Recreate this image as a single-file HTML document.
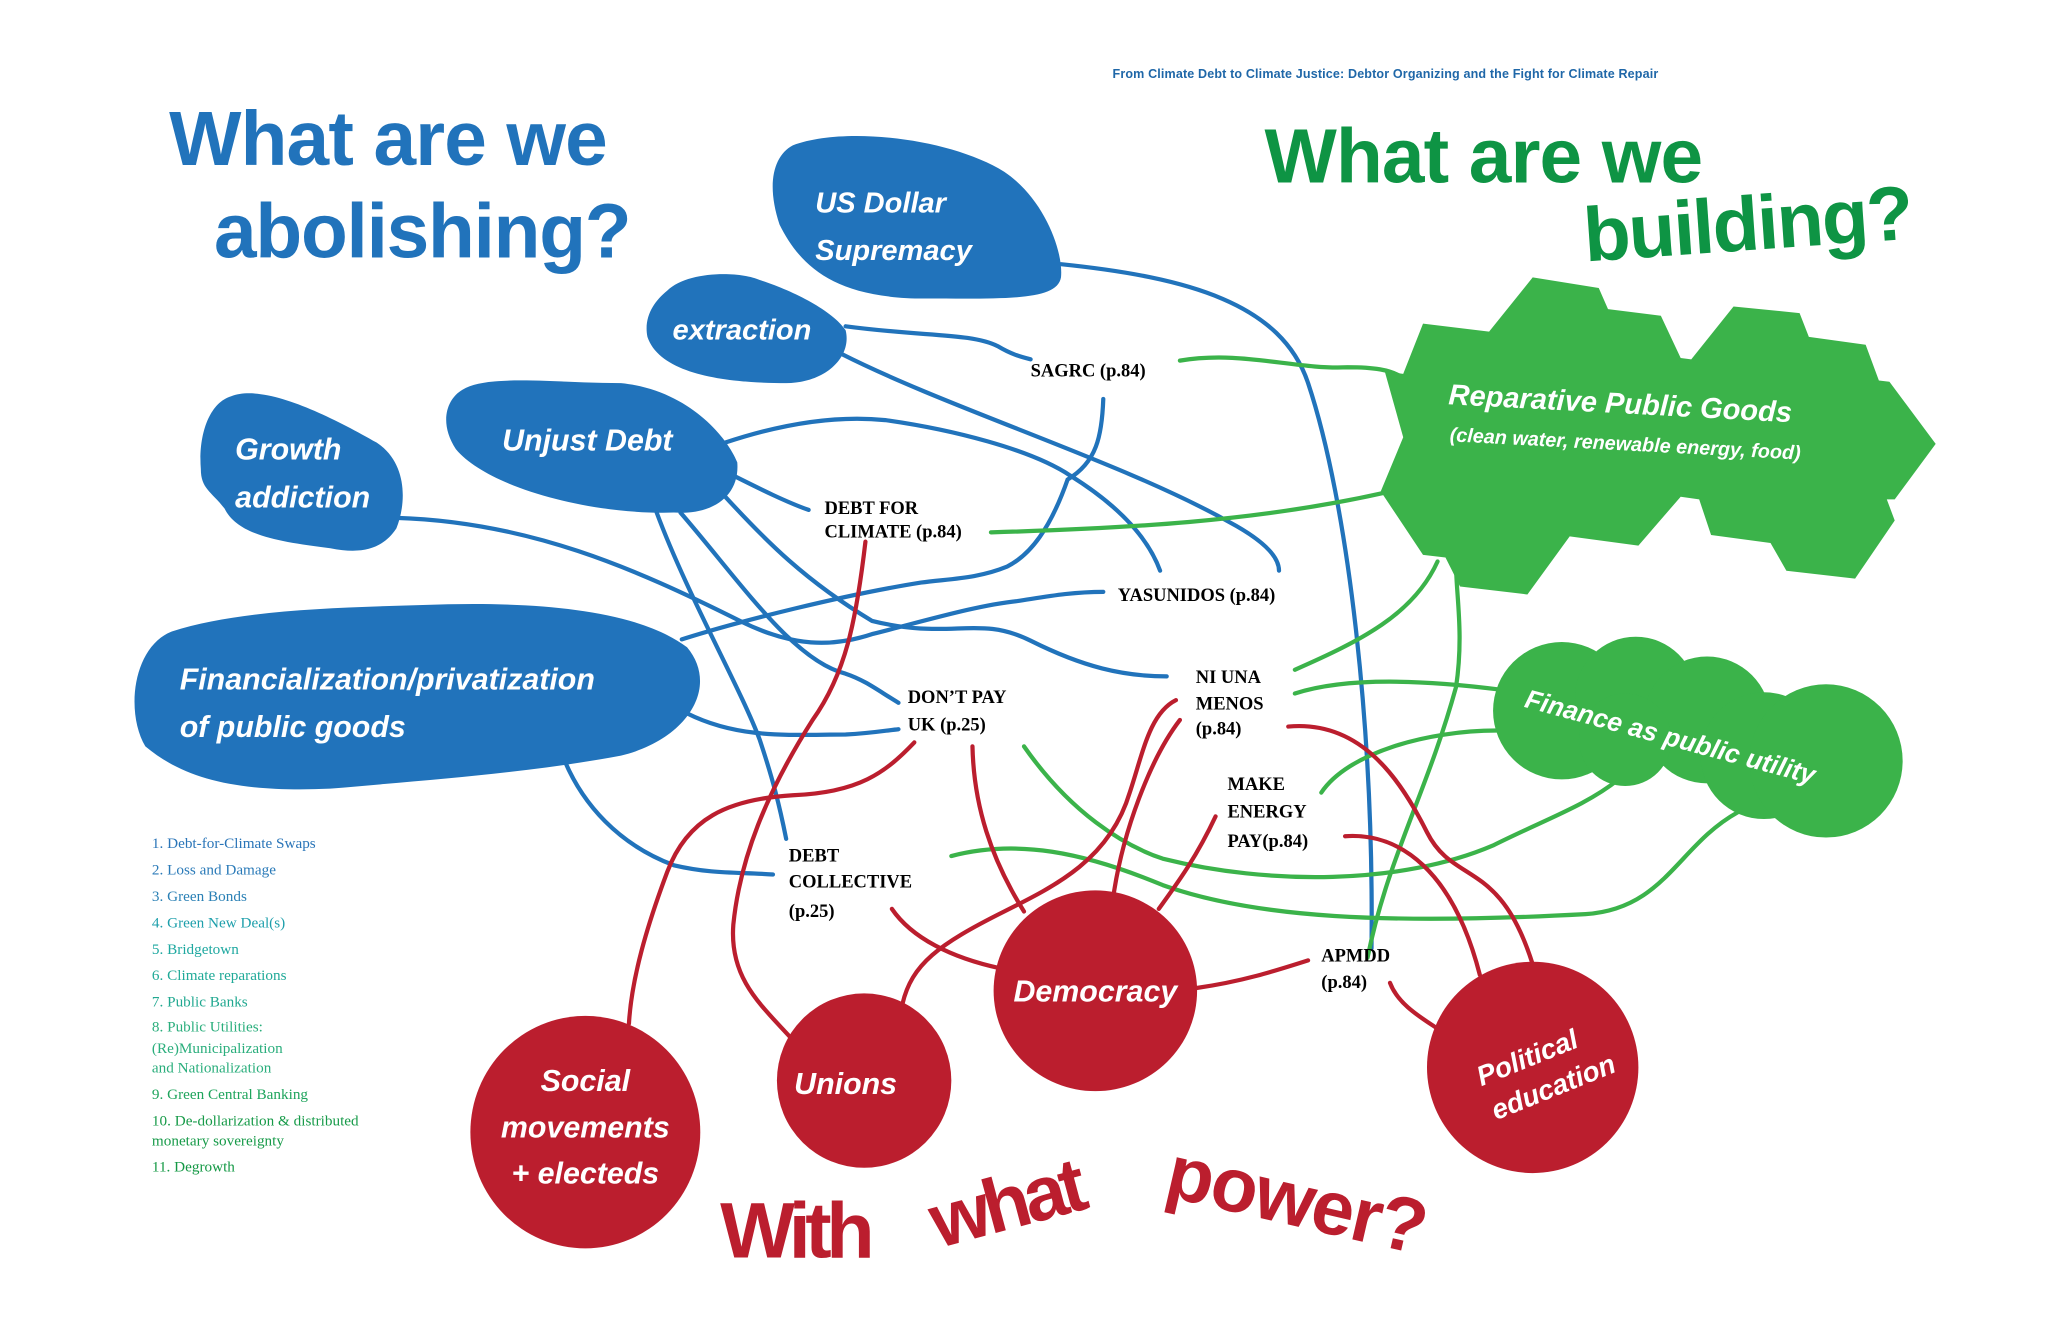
<!DOCTYPE html>
<html><head><meta charset="utf-8"><style>
html,body{margin:0;padding:0;background:#fff;}
svg{display:block;}
.t{font-family:"Liberation Sans",sans-serif;font-weight:bold;}
.b{font-family:"Liberation Sans",sans-serif;font-weight:bold;font-style:italic;fill:#fff;}
.n{font-family:"Liberation Serif",serif;font-weight:bold;fill:#000;font-size:14px;}
.l{font-family:"Liberation Serif",serif;font-size:11.5px;}
.bl{stroke:#2173bb;stroke-width:3.2;fill:none;stroke-linecap:round;}
.gr{stroke:#3bb34a;stroke-width:3.2;fill:none;stroke-linecap:round;}
.rd{stroke:#bb1e2e;stroke-width:3.2;fill:none;stroke-linecap:round;}
</style></head><body>
<svg width="2048" height="1325" viewBox="0 0 1550 1003" preserveAspectRatio="none" xmlns="http://www.w3.org/2000/svg">
<rect width="1550" height="1003" fill="#fff"/>

<!-- connectors -->
<g class="bl">
<path d="M803,200 C900,210 970,230 990,290 C1020,380 1040,550 1038,718"/>
<path d="M640,247 C700,255 735,252 755,262 C765,268 772,270 780,272"/>
<path d="M637,268 C720,310 850,350 930,395 C958,410 968,422 968,432"/>
<path d="M835,302 C834,330 830,350 808,363 C795,400 780,420 762,429 C740,438 720,438 697,441 C640,450 560,470 516,484"/>
<path d="M300,392 C400,395 480,430 560,470 C600,490 630,490 660,480 C700,470 740,458 770,455 C790,452 810,448 835,448"/>
<path d="M549,335 C600,318 640,315 670,318 C720,325 780,340 810,360 C850,385 870,410 878,432"/>
<path d="M555,360 C575,370 595,380 612,386"/>
<path d="M548,375 C580,410 610,440 660,470 C720,485 740,465 780,485 C820,505 850,512 883,512"/>
<path d="M497,388 C520,450 560,520 575,560 C585,590 590,610 595,635"/>
<path d="M515,388 C560,440 600,500 640,510 C655,515 665,523 680,532"/>
<path d="M520,540 C560,560 600,556 640,556 C660,555 670,553 680,552"/>
<path d="M425,570 C440,610 470,640 510,655 C540,662 560,660 585,662"/>
</g>
<g class="gr">
<path d="M893,273 C940,265 980,280 1020,278 C1040,278 1052,280 1060,285"/>
<path d="M750,403 C850,400 950,395 1048,373"/>
<path d="M980,507 C1030,485 1070,465 1088,425"/>
<path d="M980,525 C1020,512 1080,515 1135,522"/>
<path d="M1000,600 C1020,570 1080,553 1133,553"/>
<path d="M775,565 C810,615 850,640 880,650 C960,670 1060,670 1130,640 C1170,620 1200,610 1225,590"/>
<path d="M720,648 C770,635 820,645 880,670 C950,695 1050,700 1200,692 C1260,688 1270,640 1315,615"/>
<path d="M1035,725 C1050,650 1080,600 1102,520 C1108,480 1102,450 1102,428"/>
</g>
<g class="rd">
<path d="M655,410 C648,470 640,510 615,545 C580,600 560,650 555,700 C552,740 575,760 598,785"/>
<path d="M692,562 C670,585 650,600 600,602 C550,605 520,620 505,660 C490,700 478,740 476,775"/>
<path d="M736,565 C737,610 750,650 775,690"/>
<path d="M890,530 C870,540 865,570 855,600 C840,650 800,670 760,690 C710,715 690,730 683,760"/>
<path d="M893,545 C870,575 850,630 843,676"/>
<path d="M975,550 C1030,545 1060,590 1080,630 C1100,670 1135,650 1160,730"/>
<path d="M920,618 C905,650 890,670 877,688"/>
<path d="M1018,633 C1060,630 1100,660 1120,738"/>
<path d="M675,688 C690,710 720,725 757,733"/>
<path d="M905,748 C940,743 965,735 990,727"/>
<path d="M1052,744 C1058,760 1075,770 1087,778"/>
</g>

<!-- blue blobs -->
<g fill="#2173bb">
<path d="M600,110 C640,95 720,105 760,130 C790,150 805,190 803,210 C800,228 760,226 700,226 C630,226 605,200 590,170 C580,140 585,118 600,110Z"/>
<path d="M505,220 C520,205 560,205 575,212 C600,220 630,235 640,250 C645,270 625,290 595,290 C555,290 500,285 490,255 C487,240 495,228 505,220Z"/>
<path d="M350,295 C370,283 420,290 470,290 C520,295 550,330 558,350 C560,375 540,390 510,388 C450,390 370,370 345,340 C332,320 338,302 350,295Z"/>
<path d="M175,300 C200,290 250,315 285,335 C308,350 308,380 300,400 C290,415 275,420 250,415 C210,410 180,405 170,385 C160,372 152,370 152,355 C150,330 158,305 175,300Z"/>
<path d="M130,478 C180,462 250,460 320,458 C400,455 480,460 520,490 C545,520 520,560 470,572 C400,585 330,590 250,597 C180,600 140,590 110,565 C95,540 100,490 130,478Z"/>
</g>

<!-- green shapes -->
<polygon fill="#3bb34a" points="1062,283 1077,245 1127,251 1160,210 1210,218 1217,234 1257,239 1272,271 1280,272 1312,232 1362,237 1369,255 1412,261 1422,288 1430,289 1465,336 1434,378 1428,378 1434,394 1404,438 1352,432 1340,411 1295,405 1286,378 1272,376 1240,413 1188,406 1156,450 1105,444 1094,422 1077,420 1045,372 1062,331 1048,281"/>
<g fill="#3bb34a">
<circle cx="1182" cy="538" r="52"/>
<circle cx="1238" cy="528" r="46"/>
<circle cx="1292" cy="545" r="48"/>
<circle cx="1230" cy="560" r="35"/>
<circle cx="1335" cy="572" r="48"/>
<circle cx="1382" cy="576" r="58"/>
</g>

<!-- red circles -->
<g fill="#bb1e2e">
<ellipse cx="443" cy="857" rx="87" ry="88"/>
<ellipse cx="654" cy="818" rx="66" ry="66"/>
<ellipse cx="829" cy="750" rx="77" ry="76"/>
<ellipse cx="1160" cy="808" rx="80" ry="80"/>
</g>

<!-- titles -->
<text x="842" y="59" class="t" fill="#1f67a8" font-size="9.5" font-weight="normal" textLength="413">From Climate Debt to Climate Justice: Debtor Organizing and the Fight for Climate Repair</text>
<text x="128" y="125" class="t" fill="#2173bb" font-size="58" textLength="332">What are we</text>
<text x="162" y="195" class="t" fill="#2173bb" font-size="58" textLength="316">abolishing?</text>
<text x="957" y="138" class="t" fill="#0e9444" font-size="58" textLength="332">What are we</text>
<text x="1200" y="198" class="t" fill="#0e9444" font-size="58" textLength="250" transform="rotate(-4 1200 198)">building?</text>
<text x="545" y="952" class="t" fill="#bb1e2e" font-size="60" textLength="117">With</text>
<text x="710" y="945" class="t" fill="#bb1e2e" font-size="58" textLength="120" transform="rotate(-15 710 945)">what</text>
<text x="880" y="905" class="t" fill="#bb1e2e" font-size="58" textLength="200" transform="rotate(13 880 905)">power?</text>

<!-- blob labels -->
<text class="b" x="617" y="161" font-size="22">US Dollar</text>
<text class="b" x="617" y="197" font-size="22">Supremacy</text>
<text class="b" x="509" y="257" font-size="22">extraction</text>
<text class="b" x="380" y="341" font-size="23">Unjust Debt</text>
<text class="b" x="178" y="348" font-size="23">Growth</text>
<text class="b" x="178" y="384" font-size="23">addiction</text>
<text class="b" x="136" y="522" font-size="23">Financialization/privatization</text>
<text class="b" x="136" y="558" font-size="23">of public goods</text>
<text class="b" x="1096" y="306" font-size="22" transform="rotate(3 1096 306)">Reparative Public Goods</text>
<text class="b" x="1097" y="334" font-size="15" transform="rotate(3 1097 334)">(clean water, renewable energy, food)</text>
<text class="b" x="1153" y="535" font-size="20" transform="rotate(15 1153 535)">Finance as public utility</text>
<text class="b" x="443" y="826" font-size="23" text-anchor="middle">Social</text>
<text class="b" x="443" y="861" font-size="23" text-anchor="middle">movements</text>
<text class="b" x="443" y="896" font-size="23" text-anchor="middle">+ electeds</text>
<text class="b" x="640" y="828" font-size="23" text-anchor="middle">Unions</text>
<text class="b" x="829" y="758" font-size="23" text-anchor="middle">Democracy</text>
<g transform="rotate(-22 1165 810)">
<text class="b" x="1160" y="805" font-size="21" text-anchor="middle">Political</text>
<text class="b" x="1170" y="833" font-size="21" text-anchor="middle">education</text>
</g>

<!-- node labels -->
<text class="n" x="780" y="285">SAGRC (p.84)</text>
<text class="n" x="624" y="389" font-size="12.5">DEBT FOR</text>
<text class="n" x="624" y="407" font-size="12.5">CLIMATE (p.84)</text>
<text class="n" x="846" y="455">YASUNIDOS (p.84)</text>
<text class="n" x="687" y="532">DON’T PAY</text>
<text class="n" x="687" y="553">UK (p.25)</text>
<text class="n" x="905" y="517">NI UNA</text>
<text class="n" x="905" y="537">MENOS</text>
<text class="n" x="905" y="556">(p.84)</text>
<text class="n" x="929" y="598">MAKE</text>
<text class="n" x="929" y="619">ENERGY</text>
<text class="n" x="929" y="641">PAY(p.84)</text>
<text class="n" x="597" y="652">DEBT</text>
<text class="n" x="597" y="672">COLLECTIVE</text>
<text class="n" x="597" y="694">(p.25)</text>
<text class="n" x="1000" y="728">APMDD</text>
<text class="n" x="1000" y="748">(p.84)</text>

<!-- list -->
<text class="l" x="115" y="642" fill="#2a75b8">1. Debt-for-Climate Swaps</text>
<text class="l" x="115" y="662" fill="#2a7ab8">2. Loss and Damage</text>
<text class="l" x="115" y="682" fill="#2a80b5">3. Green Bonds</text>
<text class="l" x="115" y="702" fill="#1d9fab">4. Green New Deal(s)</text>
<text class="l" x="115" y="722" fill="#1ea8a0">5. Bridgetown</text>
<text class="l" x="115" y="742" fill="#20aa98">6. Climate reparations</text>
<text class="l" x="115" y="762" fill="#20a890">7. Public Banks</text>
<text class="l" x="115" y="781" fill="#2aae7c">8. Public Utilities:</text>
<text class="l" x="115" y="797" fill="#2aae7c">(Re)Municipalization</text>
<text class="l" x="115" y="812" fill="#2aae7c">and Nationalization</text>
<text class="l" x="115" y="832" fill="#1ea45c">9. Green Central Banking</text>
<text class="l" x="115" y="852" fill="#169a48">10. De-dollarization &amp; distributed</text>
<text class="l" x="115" y="867" fill="#169a48">monetary sovereignty</text>
<text class="l" x="115" y="887" fill="#139844">11. Degrowth</text>
</svg>
</body></html>
